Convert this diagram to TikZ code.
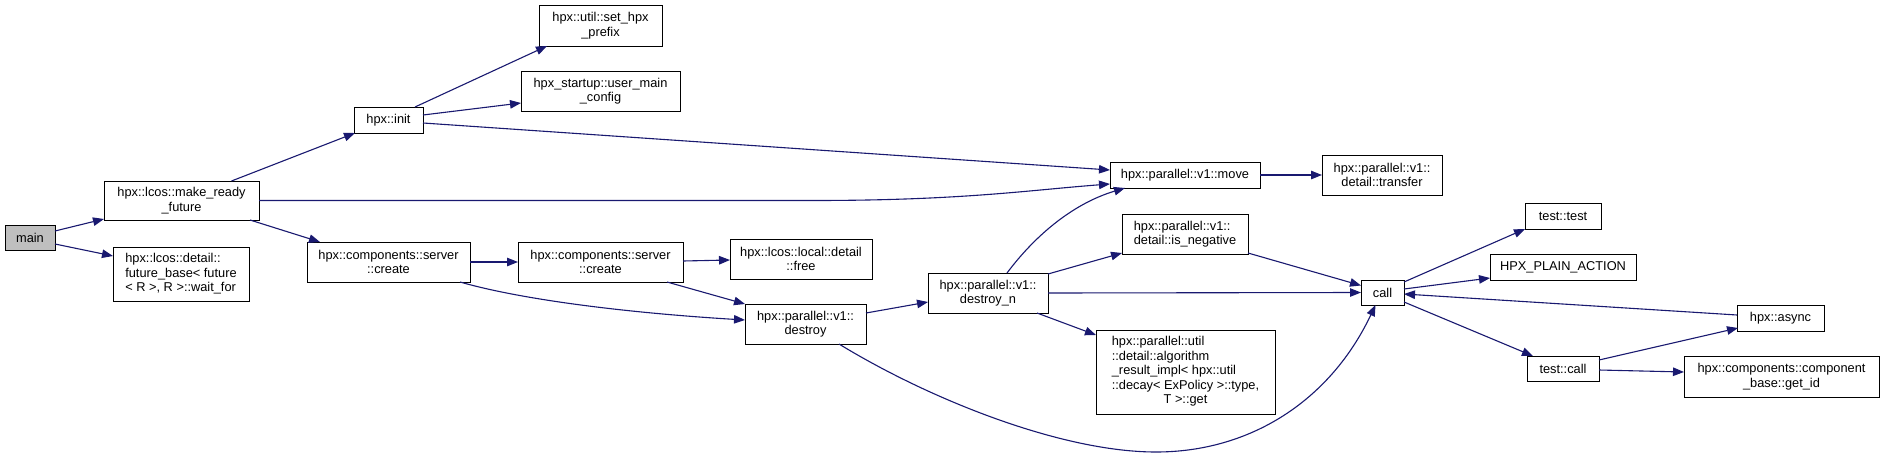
\documentclass[tikz,border=0pt]{standalone}
\usepackage{fontspec}
\setmainfont{Liberation Sans}
\usetikzlibrary{arrows.meta,calc}
\definecolor{edgecol}{HTML}{191970}
\definecolor{maingray}{HTML}{BFBFBF}
\begin{document}
\begin{tikzpicture}[x=1pt,y=-1pt,
  gbox/.style={draw=black,line width=1pt,fill=white,inner sep=0pt,outer sep=0pt,align=center,font=\fontsize{12.8}{14.5}\selectfont},
  lbox/.style={gbox,align=left},
  gedge/.style={draw=edgecol,line width=1.1pt,-{Triangle[length=11pt,width=8.5pt]}}]
\fill[white] (0,0) rectangle (1884,458);
\useasboundingbox (0,0) rectangle (1884,458);

\node[gbox,fill=maingray,minimum width=50pt,minimum height=25pt] (main) at (30,237.5) {main};
\node[gbox,minimum width=155pt,minimum height=39pt] (mrf) at (181.5,200.5) {hpx::lcos::make\_ready\\\_future};
\node[lbox,minimum width=136pt,minimum height=54pt] (fb) at (181,274) {hpx::lcos::detail::\\future\_base< future\\< R >, R >::wait\_for};
\node[gbox,minimum width=69pt,minimum height=26pt] (init) at (388.5,120) {hpx::init};
\node[gbox,minimum width=123pt,minimum height=41pt] (prefix) at (600.5,25.5) {hpx::util::set\_hpx\\\_prefix};
\node[gbox,minimum width=159pt,minimum height=40pt] (umc) at (600.5,91) {hpx\_startup::user\_main\\\_config};
\node[gbox,minimum width=163pt,minimum height=40pt] (sc1) at (388.5,262) {hpx::components::server\\::create};
\node[gbox,minimum width=165pt,minimum height=40pt] (sc2) at (600.5,262) {hpx::components::server\\::create};
\node[gbox,minimum width=142pt,minimum height=40pt] (free) at (801,259) {hpx::lcos::local::detail\\::free};
\node[gbox,minimum width=121pt,minimum height=40pt] (destroy) at (805.5,324) {hpx::parallel::v1::\\destroy};
\node[gbox,minimum width=120pt,minimum height=40pt] (dn) at (988,293) {hpx::parallel::v1::\\destroy\_n};
\node[gbox,minimum width=150pt,minimum height=26pt] (move) at (1185,175) {hpx::parallel::v1::move};
\node[gbox,minimum width=120pt,minimum height=40pt] (transfer) at (1382,175) {hpx::parallel::v1::\\detail::transfer};
\node[lbox,minimum width=126pt,minimum height=40pt] (isneg) at (1185,234) {hpx::parallel::v1::\\detail::is\_negative};
\node[gbox,minimum width=179pt,minimum height=84pt] (alg) at (1185.5,372) {\begin{tabular}{@{}l@{}}hpx::parallel::util\\::detail::algorithm\\\_result\_impl< hpx::util\\::decay< ExPolicy >::type,\\\multicolumn{1}{@{}c@{}}{T >::get}\end{tabular}};
\node[gbox,minimum width=43pt,minimum height=25pt] (call) at (1382.5,292.5) {call};
\node[gbox,minimum width=76pt,minimum height=26pt] (tt) at (1563,216) {test::test};
\node[gbox,minimum width=146pt,minimum height=26pt] (hpa) at (1563,267) {HPX\_PLAIN\_ACTION};
\node[gbox,minimum width=87pt,minimum height=26pt] (async) at (1780.5,318) {hpx::async};
\node[gbox,minimum width=72pt,minimum height=25pt] (tcall) at (1563,368.5) {test::call};
\node[gbox,minimum width=195pt,minimum height=41pt] (getid) at (1781.5,376.5) {hpx::components::component\\\_base::get\_id};
\coordinate (bot) at (1156,452);

\draw[gedge] ($(main.east)+(0,-6.5)$) -- ($(mrf.south west)+(0,-1)$);
\draw[gedge] ($(main.east)+(0,6.5)$) -- ($(fb.west)+(0,-18)$);
\draw[gedge] ($(mrf.north)+(50,0)$) -- ($(init.south west)+(1,0)$);
\draw[gedge] (mrf.east) -- ++(554,0) .. controls +(150,0) and +(-80,6) .. ($(move.west)+(0,9)$);
\draw[gedge] ($(mrf.south)+(68.5,0)$) -- ($(sc1.north west)+(13,0)$);
\draw[gedge] ($(init.north)+(26.5,0)$) -- ($(prefix.south west)+(8,0)$);
\draw[gedge] ($(init.east)+(0,-5)$) -- ($(umc.west)+(0,12)$);
\draw[gedge] ($(init.east)+(0,3)$) -- ($(move.west)+(0,-5)$);
\draw[gedge] (sc1.east) -- (sc2.west);
\draw[gedge] ($(sc1.south east)+(-10,0)$) .. controls +(70,20) and +(-100,-6) .. ($(destroy.west)+(0,-4)$);
\draw[gedge] ($(sc2.east)+(0,-1)$) -- ($(free.west)+(0,1)$);
\draw[gedge] ($(sc2.south east)+(-16,0)$) -- (destroy.north west);
\draw[gedge] ($(destroy.east)+(0,-11)$) -- ($(dn.west)+(0,9)$);
\draw[gedge] ($(destroy.south)+(33.5,0)$) .. controls +(90,55) and +(-95,0) .. (bot) .. controls +(95,0) and +(-45,95) .. ($(call.south)+(-7,0)$);
\draw[gedge] ($(dn.north)+(19,0)$) .. controls +(30,-40) and +(-50,15) .. ($(move.south west)+(15,0)$);
\draw[gedge] ($(dn.north east)+(0,1)$) -- ($(isneg.south west)+(0,-1)$);
\draw[gedge] (dn.east) -- (call.west);
\draw[gedge] ($(dn.south east)+(-11,0)$) -- ($(alg.north west)+(0,5)$);
\draw[gedge] (move.east) -- (transfer.west);
\draw[gedge] ($(isneg.south east)+(0,-1)$) -- ($(call.west)+(0,-7)$);
\draw[gedge] ($(call.north east)+(0,2)$) -- (tt.south west);
\draw[gedge] ($(call.east)+(0,-3.5)$) -- ($(hpa.west)+(0,11)$);
\draw[gedge] ($(call.south east)+(0,-3)$) -- ($(tcall.north west)+(6,0)$);
\draw[gedge] ($(async.west)+(0,-3)$) -- ($(call.east)+(0,1.5)$);
\draw[gedge] ($(tcall.north east)+(0,4)$) -- ($(async.south west)+(1,-3)$);
\draw[gedge] ($(tcall.east)+(0,1.5)$) -- ($(getid.west)+(0,-4.5)$);
\end{tikzpicture}
\end{document}
